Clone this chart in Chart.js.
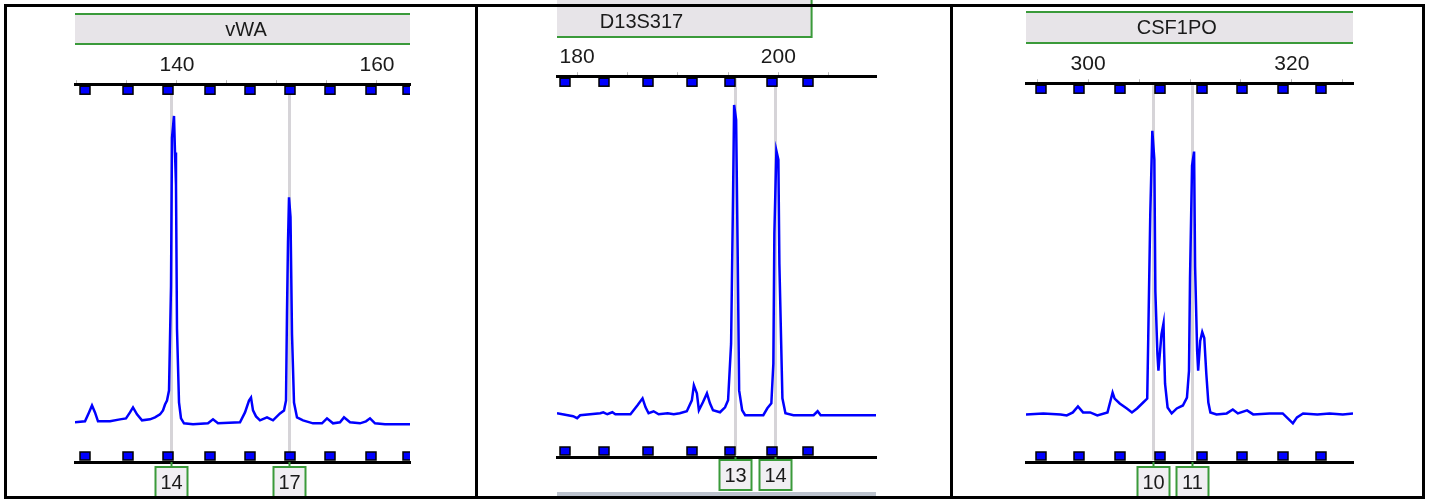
<!DOCTYPE html>
<html>
<head>
<meta charset="utf-8">
<script src="https://cdn.jsdelivr.net/npm/chart.js@4.4.0/dist/chart.umd.min.js"></script>
<style>
html,body{margin:0;padding:0;background:#fff;}
#wrap{position:relative;width:1434px;height:500px;overflow:hidden;background:#fff;}
canvas{position:absolute;top:0;}
.ln{position:absolute;background:#000;}
</style>
</head>
<body>
<div id="wrap">
  <canvas id="cVWA" width="476" height="500" style="left:0"></canvas>
  <canvas id="cD13" width="475" height="500" style="left:477px"></canvas>
  <canvas id="cCSF" width="482" height="500" style="left:952px"></canvas>
  <div class="ln" style="left:4px;top:4px;width:1421px;height:3px"></div>
  <div class="ln" style="left:4px;top:496px;width:1421px;height:3px"></div>
  <div class="ln" style="left:4px;top:4px;width:3px;height:495px"></div>
  <div class="ln" style="left:475px;top:4px;width:3px;height:495px"></div>
  <div class="ln" style="left:950px;top:4px;width:3px;height:495px"></div>
  <div class="ln" style="left:1422px;top:4px;width:3px;height:495px"></div>
</div>
<script>
// ── data (size in bp, height in RFU) ──
var VWA_BP=[129.8,130.8,131.2,131.5,131.8,132.1,133.3,134.3,134.9,135.3,135.6,136.0,136.5,137.3,137.8,138.3,138.6,138.8,139.0,139.2,139.4,139.5,139.7,139.8,139.9,140.0,140.2,140.4,140.7,141.6,143.1,143.6,144.1,146.3,146.8,147.2,147.4,147.6,147.9,148.3,149.0,149.6,150.3,150.7,150.9,151.0,151.1,151.2,151.35,151.5,151.7,152.0,152.6,153.6,154.5,155.0,155.6,156.3,156.7,157.3,158.3,158.9,159.3,159.8,160.8,163.3];
var VWA_RFU=[10,20,110,180,110,20,20,40,50,110,160,90,30,40,60,90,130,190,230,330,1380,2880,3100,2730,2400,950,210,50,0,-10,0,40,0,10,110,230,260,130,70,30,60,30,100,130,230,1130,1830,2280,2080,900,210,60,30,0,0,50,0,10,60,10,0,20,50,0,-10,-10];
var VWA_BINS=[130.8,135.1,139.1,143.3,147.3,151.3,155.3,159.4,163.1];
var VWA_ALLELES=["14","17"];
var VWA_ALLELE_BP=[139.4,151.2];
var VWA_TICKS=[140,160];

var D13_BP=[178.0,179.6,180.0,180.3,182.3,182.6,183.0,183.5,183.8,185.3,186.0,186.5,186.8,187.1,187.6,188.1,189.0,189.6,190.2,190.9,191.4,191.6,191.9,192.1,192.5,192.9,193.2,193.5,194.2,194.7,195.0,195.3,195.5,195.6,195.8,195.95,196.1,196.4,196.7,198.5,198.9,199.3,199.5,199.6,199.8,200.0,200.1,200.4,200.7,201.5,203.5,203.9,204.2,209.7];
var D13_RFU=[20,-10,-30,0,20,30,10,30,10,10,100,170,80,20,40,10,20,10,20,40,150,300,220,50,130,220,120,50,30,80,150,720,2250,3120,2970,1680,250,50,0,0,70,120,520,1830,2660,2570,1520,170,20,0,0,40,0,0];
var D13_BINS=[178.8,182.7,187.0,191.4,195.2,199.4,202.9];
var D13_ALLELES=["13","14"];
var D13_ALLELE_BP=[195.7,199.7];
var D13_TICKS=[180,200];

var CSF_BP=[293.9,295.6,297.3,297.9,298.5,299.0,299.5,300.2,300.9,301.9,302.2,302.4,302.6,303.1,303.8,304.3,304.8,305.4,305.8,305.9,306.1,306.3,306.5,306.6,306.8,306.9,307.2,307.4,307.45,307.55,307.8,308.2,308.7,309.3,309.7,309.9,310.0,310.2,310.4,310.5,310.7,310.8,311.0,311.2,311.4,311.6,311.8,312.0,312.6,313.6,314.2,314.7,315.6,316.2,317.8,319.1,319.6,320.1,320.5,321.1,322.5,323.7,325.0,326.0];
var CSF_RFU=[-10,0,-10,-20,10,70,10,10,-20,10,130,210,150,100,50,10,50,110,150,760,2010,2850,2560,1230,600,430,800,910,660,300,60,0,50,80,160,430,1360,2500,2640,1480,630,430,730,820,760,400,110,10,-10,0,40,0,30,-10,0,0,-50,-100,-40,0,-10,0,-10,0];
var CSF_BINS=[295.4,299.1,303.1,307.1,311.2,315.1,319.1,322.9];
var CSF_ALLELES=["10","11"];
var CSF_ALLELE_BP=[306.4,310.2];
var CSF_TICKS=[300,320];

var FONT="'Liberation Sans', Arial, sans-serif";
var GREEN="#3a9a3a", HDR="#e7e4e8", BLUE="#0000ff";

// header, bin markers, allele lines and allele boxes
var deco={
  id:"deco",
  beforeDatasetsDraw:function(ch,args,o){
    var ctx=ch.ctx,a=ch.chartArea,x=ch.scales.x;
    ctx.save();
    ctx.strokeStyle="#d6d4d8";ctx.lineWidth=3;
    o.alleleBp.forEach(function(b){
      var px=Math.round(x.getPixelForValue(b))+0.5;
      ctx.beginPath();ctx.moveTo(px,a.top+2);ctx.lineTo(px,a.bottom-2);ctx.stroke();
    });
    ctx.restore();
  },
  afterDatasetsDraw:function(ch,args,o){
    var ctx=ch.ctx,a=ch.chartArea,x=ch.scales.x;
    // bin markers
    ctx.save();
    ctx.beginPath();ctx.rect(a.left,0,a.right-a.left,ch.height);ctx.clip();
    o.bins.forEach(function(b){
      var px=Math.round(x.getPixelForValue(b));
      [a.top+2,a.bottom-10].forEach(function(ty){
        ctx.fillStyle=BLUE;ctx.fillRect(px-5,ty,10,8);
        ctx.strokeStyle="#000";ctx.lineWidth=1.5;ctx.strokeRect(px-5,ty,10,8);
      });
    });
    ctx.restore();

    // marker header
    ctx.save();
    var hx1=a.left,hx2=o.hEnd!=null?x.getPixelForValue(o.hEnd):a.right;
    ctx.fillStyle=HDR;ctx.fillRect(hx1,o.hTop,hx2-hx1,o.hBot-o.hTop);
    ctx.strokeStyle=GREEN;ctx.lineWidth=2;
    ctx.beginPath();
    if(o.hLines.indexOf("t")!==-1){ctx.moveTo(hx1,o.hTop);ctx.lineTo(hx2,o.hTop);}
    if(o.hLines.indexOf("b")!==-1){ctx.moveTo(hx1,o.hBot);ctx.lineTo(hx2,o.hBot);}
    if(o.hLines.indexOf("r")!==-1){ctx.moveTo(hx2,o.hTop);ctx.lineTo(hx2,o.hBot+1);}
    ctx.stroke();
    ctx.fillStyle="#1a1a1a";ctx.font="20px "+FONT;ctx.textAlign="center";ctx.textBaseline="middle";
    ctx.fillText(o.name,x.getPixelForValue(o.hText),o.hTextY);

    // foot bar of the next row (only where it shows)
    if(o.foot){ctx.fillStyle="#bcc3cd";ctx.fillRect(a.left,o.foot,a.right-a.left,4);}

    // allele call boxes
    o.alleleBp.forEach(function(b,i){
      var px=Math.round(x.getPixelForValue(b))+0.5,by=a.bottom+o.boxGap;
      ctx.strokeStyle=GREEN;ctx.lineWidth=2;
      ctx.beginPath();ctx.moveTo(px,a.bottom);ctx.lineTo(px,by);ctx.stroke();
      ctx.fillStyle="#f1eff3";ctx.fillRect(px-16,by,32,30);
      ctx.strokeRect(px-16,by,32,30);
      ctx.fillStyle="#1a1a1a";ctx.font="20px "+FONT;
      ctx.fillText(o.alleles[i],px,by+16);
    });
    ctx.restore();
  }
};

function mk(id,p){
  var pts=p.bp.map(function(b,i){return{x:b,y:p.rfu[i]};});
  new Chart(document.getElementById(id),{
    type:"line",
    data:{datasets:[{data:pts,borderColor:BLUE,borderWidth:2.5,pointRadius:0,tension:0,fill:false}]},
    options:{
      responsive:false,animation:false,
      layout:{padding:p.pad},
      plugins:{legend:{display:false},tooltip:{enabled:false},deco:p.deco},
      scales:{
        x:{type:"linear",position:"top",min:p.min,max:p.max,
          ticks:{stepSize:5,includeBounds:false,autoSkip:false,maxRotation:0,padding:2,color:"#1a1a1a",
            font:{family:FONT,size:21},
            callback:function(v){return p.ticks.some(function(t){return Math.abs(t-v)<0.01;})?String(v):"";}},
          grid:{drawOnChartArea:false,drawTicks:true,tickLength:4,color:"#b8b8b8"},
          border:{display:true,color:"#000",width:3}},
        xb:{type:"linear",position:"bottom",min:p.min,max:p.max,
          ticks:{display:false},
          grid:{drawOnChartArea:false,drawTicks:false},
          border:{display:true,color:"#000",width:3}},
        y:{display:false,min:p.ymin,max:p.ymax}
      }
    },
    plugins:[deco]
  });
}

mk("cVWA",{bp:VWA_BP,rfu:VWA_RFU,ticks:VWA_TICKS,min:129.8,max:163.3,ymin:-390,ymax:3420,
  pad:{left:75,right:66,top:51,bottom:38},
  deco:{name:"vWA",bins:VWA_BINS,alleles:VWA_ALLELES,alleleBp:VWA_ALLELE_BP,
    hEnd:null,hTop:14,hBot:44,hLines:"tb",hText:146.9,hTextY:30,boxGap:5,foot:null}});

mk("cD13",{bp:D13_BP,rfu:D13_RFU,ticks:D13_TICKS,min:178.0,max:209.7,ymin:-420,ymax:3410,
  pad:{left:80,right:76,top:43,bottom:43},
  deco:{name:"D13S317",bins:D13_BINS,alleles:D13_ALLELES,alleleBp:D13_ALLELE_BP,
    hEnd:203.3,hTop:0,hBot:37,hLines:"br",hText:186.4,hTextY:22,boxGap:3,foot:492}});

mk("cCSF",{bp:CSF_BP,rfu:CSF_RFU,ticks:CSF_TICKS,min:293.9,max:326.0,ymin:-490,ymax:3330,
  pad:{left:74,right:81,top:50,bottom:38},
  deco:{name:"CSF1PO",bins:CSF_BINS,alleles:CSF_ALLELES,alleleBp:CSF_ALLELE_BP,
    hEnd:null,hTop:12,hBot:43,hLines:"tb",hText:308.7,hTextY:28,boxGap:5,foot:null}});
</script>
</body>
</html>
